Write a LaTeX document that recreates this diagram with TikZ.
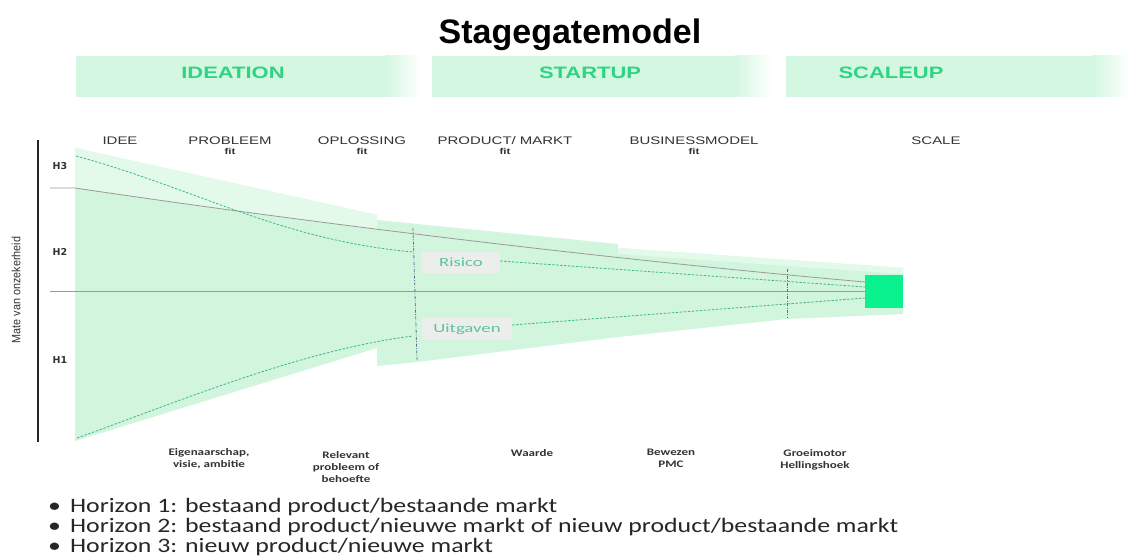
\documentclass[tikz,border=0pt]{standalone}
\usepackage{fontspec}
\setmainfont{Liberation Sans}
\newfontfamily\bandfnt[FakeStretch=1.33]{Liberation Sans}
\newfontfamily\headfnt[FakeStretch=1.36]{Liberation Sans}
\newfontfamily\calfnt[FakeStretch=1.3]{Carlito}
\newfontfamily\bulfnt[FakeStretch=1.26]{Carlito}
\newfontfamily\lblfnt[FakeStretch=1.5]{Carlito}
\newfontfamily\axfnt[FakeStretch=0.9]{Liberation Sans}
\newfontfamily\hlabfnt{DejaVu Sans}
\definecolor{band}{HTML}{D3F7E0}
\definecolor{bandtxt}{HTML}{2FD483}
\definecolor{fun}{HTML}{D2F5DD}
\definecolor{funlight}{HTML}{E3F9EA}
\definecolor{sq}{HTML}{0AF28E}
\definecolor{dashc}{HTML}{3DB88A}
\definecolor{gline}{HTML}{9A9A9A}
\definecolor{vline}{HTML}{4F7590}
\definecolor{lbltxt}{HTML}{5CC3A0}
\definecolor{lblbox}{HTML}{ECEEEC}
\definecolor{txt}{HTML}{333333}
\tikzset{
  bandtext/.style={inner sep=0pt, text=bandtxt, font=\bandfnt\bfseries\fontsize{16.5}{18}\selectfont},
  headtext/.style={inner sep=0pt, text=txt, font=\headfnt\fontsize{11}{12}\selectfont},
  fittext/.style={inner sep=0pt, text=txt, font=\headfnt\bfseries\fontsize{8.5}{9}\selectfont},
  hlab/.style={inner sep=0pt, text=txt, font=\hlabfnt\bfseries\fontsize{9.5}{10}\selectfont},
  bottext/.style={inner sep=0pt, text=txt, align=center, anchor=north, font=\calfnt\bfseries\fontsize{10}{12}\selectfont},
  bultext/.style={inner sep=0pt, anchor=base west, text=black!85, font=\bulfnt\fontsize{20.5}{22}\selectfont},
  lblbox/.style={fill=lblbox, text=lbltxt, inner sep=0pt, font=\lblfnt\fontsize{12.5}{14}\selectfont},
  gl/.style={draw=gline, line width=0.8pt},
  dl/.style={draw=dashc, line width=0.8pt, dash pattern=on 2.5pt off 1.5pt},
  vl/.style={draw=vline, line width=0.8pt, dash pattern=on 3pt off 1.5pt on 0.8pt off 1.5pt},
}
\begin{document}
\begin{tikzpicture}[x=1pt, y=-1pt]
\useasboundingbox (0,0) rectangle (1130,556);
\fill[white] (0,0) rectangle (1130,556);

% title
\node[anchor=base, inner sep=0pt, font=\bfseries\fontsize{34}{40}\selectfont] (title) at (570,44) {Stagegatemodel};

% phase bands
\fill[band] (76,56) rectangle (385,97);
\shade[left color=band, right color=white] (385,56) rectangle (421,97);
\fill[band] (432,56) rectangle (735,97);
\shade[left color=band, right color=white] (735,56) rectangle (771,97);
\fill[band] (786,56) rectangle (1092,97);
\shade[left color=band, right color=white] (1092,56) rectangle (1130,97);
\node[bandtext] (ideation) at (233,73) {IDEATION};
\node[bandtext] (startup) at (590,73) {STARTUP};
\node[bandtext] (scaleup) at (891,73) {SCALEUP};

% funnel
\fill[fun] (377,220) -- (618,244) -- (618,248) -- (903,268) -- (903,314) -- (787,319) -- (618,337) -- (417,362) -- (377,366) -- cycle;
\fill[fun] (75,148) -- (377,215) -- (377,348) -- (75,441) -- cycle;
\begin{scope}
  \clip (75,148) -- (377,215) -- (377,348) -- (75,441) -- cycle;
  \fill[funlight] (70,140) -- (70,188) -- (75,188) .. controls (250,214) and (550,254) .. (865,282) -- (865,140) -- cycle;
\end{scope}
\fill[funlight] (618,248) -- (903,268) -- (903,274) -- (618,254) -- cycle;

% gray lines
\draw[gl] (50,188) -- (75,188) .. controls (250,214) and (550,254) .. (865,282);
\draw[gl] (50,291) -- (865,291);

% risico / uitgaven labels
\node[lblbox, minimum width=78pt, minimum height=21pt] (risico) at (461,262.5) {Risico};
\node[lblbox, minimum width=90pt, minimum height=22pt] (uitgaven) at (467,329) {Uitgaven};

% dashed lines
\draw[dl] (76,156) .. controls (200,190) and (280,240) .. (413,252);
\draw[dl] (risico.east |- 0,261) coordinate (r1) -- (865,287);
\draw[dl] (77,438) .. controls (170,405) and (300,350) .. (413,336);
\draw[dl] (uitgaven.east |- 0,325) coordinate (u1) -- (865,298);

% vertical gates
\draw[vl] (413,228) -- (417,360);
\draw[vl] (787,269) -- (787,318);

% square
\fill[sq] (865,275) rectangle (903,308);

% axis
\draw[black!85, line width=1.8pt] (38,140) -- (38,442);
\node[rotate=90, inner sep=0pt, text=txt, font=\axfnt\fontsize{12}{13}\selectfont] (axis) at (16,290) {Mate van onzekerheid};
\node[hlab] (h3) at (60,166) {H3};
\node[hlab] (h2) at (60,252) {H2};
\node[hlab] (h1) at (60,360) {H1};

% column headers
\node[headtext] (idee) at (120,141) {IDEE};
\node[headtext] (prob) at (230,141) {PROBLEEM};
\node[fittext] (probfit) at (230,151) {fit};
\node[headtext] (opl) at (362,141) {OPLOSSING};
\node[fittext] (oplfit) at (362,151) {fit};
\node[headtext] (pm) at (505,141) {PRODUCT/ MARKT};
\node[fittext] (pmfit) at (505,151) {fit};
\node[headtext] (bm) at (694,141) {BUSINESSMODEL};
\node[fittext] (bmfit) at (694,151) {fit};
\node[headtext] (scale) at (936,141) {SCALE};

% bottom labels
\node[bottext] (b1) at (209,448) {Eigenaarschap,\\visie, ambitie};
\node[bottext] (b2) at (346,451) {Relevant\\probleem of\\behoefte};
\node[bottext] (b3) at (532,449) {Waarde};
\node[bottext] (b4) at (671,449) {Bewezen\\PMC};
\node[bottext] (b5) at (815,449) {Groeimotor\\Hellingshoek};

% bullets
\node[bultext] (l1) at (48,512) {•\hspace{9pt}Horizon 1: bestaand product/bestaande markt};
\node[bultext] (l2) at (48,532) {•\hspace{9pt}Horizon 2: bestaand product/nieuwe markt of nieuw product/bestaande markt};
\node[bultext] (l3) at (48,552) {•\hspace{9pt}Horizon 3: nieuw product/nieuwe markt};
\end{tikzpicture}
\end{document}
